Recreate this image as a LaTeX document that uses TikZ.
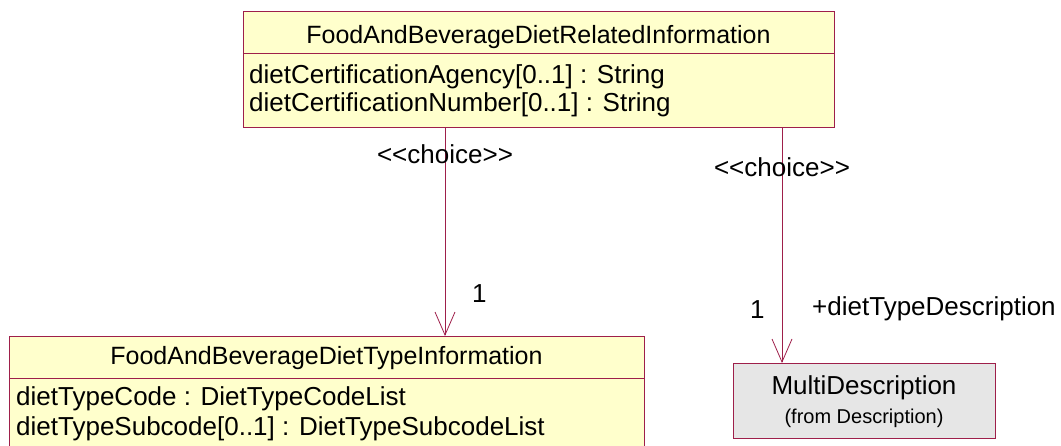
\documentclass[tikz,border=0pt]{standalone}
\usepackage{fontspec}
\setmainfont{Liberation Sans}
\usepackage{tikz}
\usetikzlibrary{arrows.meta}
\definecolor{umlborderc}{HTML}{9E1F4A}
\definecolor{umlfillc}{HTML}{FFFFCC}
\definecolor{umlgreyc}{HTML}{E6E6E6}
\colorlet{bordercolor}{umlborderc}
\colorlet{classfill}{umlfillc}
\colorlet{extfill}{umlgreyc}
\tikzstyle{classbox} = [
    draw=bordercolor,
    fill=classfill,
    line width=1.2pt,
    rectangle,
    inner sep=0pt,
    anchor=north west
    ]
\tikzstyle{umltext} = [
    font=\fontsize{26}{30}\selectfont,
    inner sep=0pt,
    anchor=base west
    ]
\tikzstyle{titletext} = [
    font=\fontsize{25}{30}\selectfont,
    inner sep=0pt,
    anchor=base
    ]
\tikzstyle{smalltext} = [
    font=\fontsize{20}{24}\selectfont,
    inner sep=0pt,
    anchor=base
    ]
\tikzstyle{assoc} = [
    draw=bordercolor,
    line width=0.8pt,
    -{Straight Barb[length=23pt,width=20pt,line width=0.8pt]}
    ]
\newcommand{\choicetag}{<{}<choice>{}>}

\begin{document}
\begin{tikzpicture}[x=1pt,y=-1pt]
\useasboundingbox (0,0) rectangle (1061,445);
% diet related information
\node[classbox, minimum width=591pt, minimum height=42pt] (reltitle) at (243,11) {};
\node[classbox, minimum width=591pt, minimum height=74pt] (relattr) at (243,53) {};
\node[titletext] (relname) at (538.5,43) {FoodAndBeverageDietRelatedInformation};
\node[umltext] (relattra) at (249,83) {dietCertificationAgency[0..1] : String};
\node[umltext] (relattrb) at (249,111) {dietCertificationNumber[0..1] : String};
% diet type information
\node[classbox, minimum width=635pt, minimum height=42pt] (typetitle) at (9,336) {};
\node[classbox, minimum width=635pt, minimum height=90pt] (typeattr) at (9,378) {};
\node[titletext] (typename) at (326.5,364) {FoodAndBeverageDietTypeInformation};
\node[umltext] (typeattra) at (16,405) {dietTypeCode : DietTypeCodeList};
\node[umltext] (typeattrb) at (16,435) {dietTypeSubcode[0..1] : DietTypeSubcodeList};
% multi description
\node[classbox, fill=extfill, minimum width=262pt, minimum height=75pt] (multi) at (733,363) {};
\node[umltext, anchor=base] (multiname) at (864,394) {MultiDescription};
\node[smalltext] (multifrom) at (864,423) {(from Description)};
% associations
\coordinate (leftlane) at (445,0);
\coordinate (rightlane) at (782,0);
\draw[assoc] (relattr.south -| leftlane) -- (typetitle.north -| leftlane);
\draw[assoc] (relattr.south -| rightlane) -- (multi.north -| rightlane);
\node[umltext, anchor=base] (choicea) at (445,163) {\choicetag};
\node[umltext, anchor=base] (choiceb) at (782,176) {\choicetag};
\node[umltext] (multa) at (472,302) {1};
\node[umltext] (multb) at (750,318) {1};
\node[umltext] (roleb) at (812,315) {+dietTypeDescription};
\end{tikzpicture}
\end{document}
